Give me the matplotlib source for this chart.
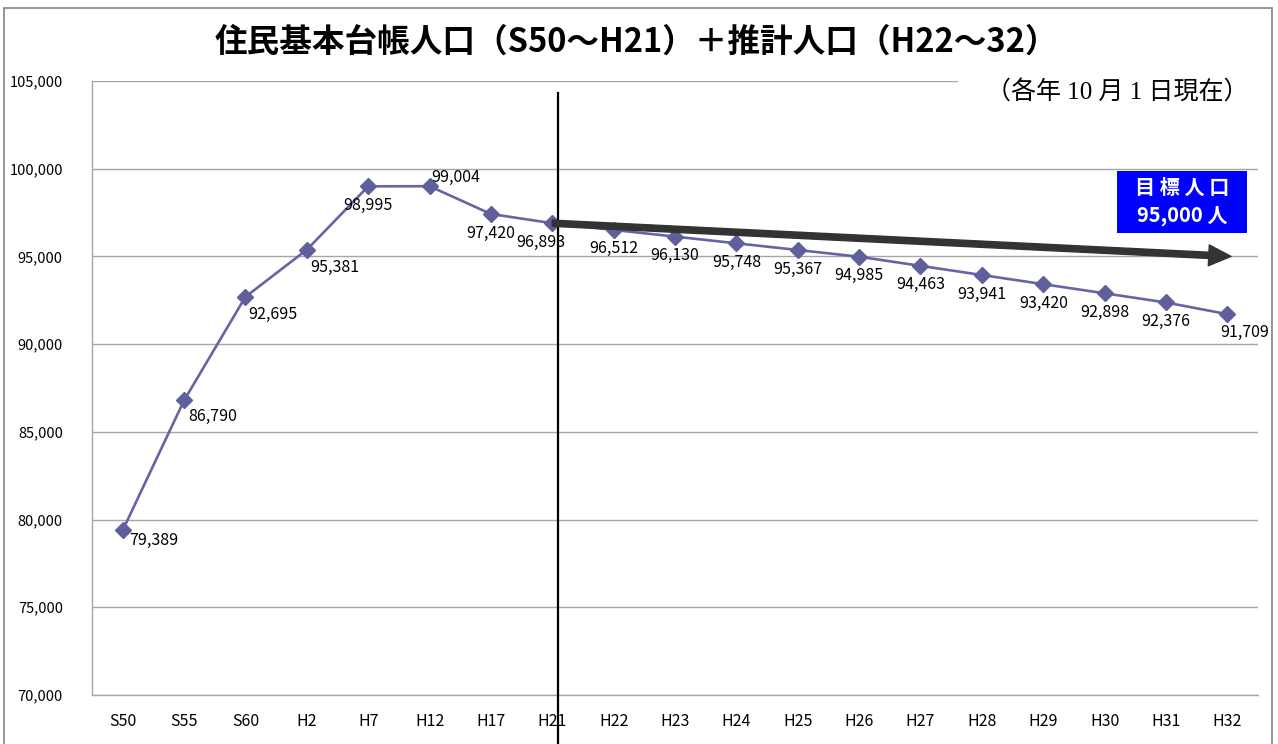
import numpy as np
import matplotlib
matplotlib.use("Agg")
import matplotlib.pyplot as plt
from matplotlib.patches import Rectangle
from matplotlib.ticker import FuncFormatter, MultipleLocator

plt.rcParams['font.family'] = ['Noto Sans CJK JP', 'DejaVu Sans']

# Data
years = ['S50', 'S55', 'S60', 'H2', 'H7', 'H12', 'H17', 'H21',
         'H22', 'H23', 'H24', 'H25', 'H26', 'H27', 'H28', 'H29', 'H30', 'H31', 'H32']
population = [79389, 86790, 92695, 95381, 98995, 99004, 97420, 96893,
              96512, 96130, 95748, 95367, 94985, 94463, 93941, 93420, 92898, 92376, 91709]
last_actual = 'H21'
goal = 95000

title = '住民基本台帳人口（S50～H21）＋推計人口（H22～32）'
subtitle = '（各年 10 月 1 日現在）'
goal_lines = ['目 標 人 口', '95,000 人']

# Layout (pixels of a 1278x744 canvas)
W, H = 1278, 744
LINE_COLOR = '#6565a5'
MARKER_COLOR = '#5f5f9c'
GRID_COLOR = '#a6a6a6'

# per-label offsets in pixels (dx, dy, ha)
label_offsets = {0: (7, -10, 'left'), 1: (4, -16, 'left'), 2: (3, -18, 'left'),
                 3: (3, -18, 'left'), 5: (2, 9, 'left'), 7: (-11, -19, 'center'),
                 18: (17, -18, 'center')}


def fig_x(px):
    return px / W


def fig_y(py):
    return 1 - py / H


fig = plt.figure(figsize=(W / 100, H / 100), dpi=100)
ax = fig.add_axes([fig_x(92), fig_y(695), (1258 - 92) / W, (695 - 81) / H])

x = np.arange(len(years))
ax.plot(x, population, color=LINE_COLOR, lw=1.9, marker='D', ms=8.5,
        mfc=MARKER_COLOR, mec=MARKER_COLOR, zorder=3)

for i, v in enumerate(population):
    dx, dy, ha = label_offsets.get(i, (0, -19, 'center'))
    ax.annotate(f'{v:,}', (x[i], v), xytext=(dx, dy), textcoords='offset pixels',
                ha=ha, va='center', fontsize=11.5, color='black', zorder=5)

ax.set_xlim(-0.5, len(years) - 0.5)
ax.set_ylim(70000, 105000)
ax.set_xticks(x)
ax.set_xticklabels(years)
ax.yaxis.set_major_locator(MultipleLocator(5000))
ax.yaxis.set_major_formatter(FuncFormatter(lambda v, p: f'{int(v):,}'))
ax.tick_params(axis='y', length=0, pad=21, labelsize=10.5)
ax.tick_params(axis='x', length=0, pad=13, labelsize=11.5)
ax.grid(axis='y', color=GRID_COLOR, lw=1.0, zorder=0)
ax.set_axisbelow(True)
for side in ['top', 'right']:
    ax.spines[side].set_visible(False)
for side in ['left', 'bottom']:
    ax.spines[side].set_color(GRID_COLOR)
    ax.spines[side].set_linewidth(1.0)

# divider between actual and projected values
i_last = years.index(last_actual)
trans = matplotlib.transforms.blended_transform_factory(ax.transData, ax.transAxes)
ax.plot([i_last + 0.09, i_last + 0.09], [0.98, -0.1], transform=trans,
        color='black', lw=1.6, clip_on=False, zorder=4)

# goal trend arrow
ax.annotate('', xy=(len(years) - 1 + 0.06, goal), xytext=(i_last, population[i_last]),
            arrowprops=dict(arrowstyle='simple,head_length=1.6,head_width=1.5,tail_width=0.45',
                            color='#333333', shrinkA=0, shrinkB=0), zorder=6)

# white patch hiding the top gridline under the subtitle
fig.patches.append(Rectangle((fig_x(958), fig_y(110)), (1265 - 958) / W, 35 / H,
                             transform=fig.transFigure, facecolor='white',
                             edgecolor='none', zorder=2))
fig.text(fig_x(1117), fig_y(93), subtitle, ha='center', va='center', fontsize=18,
         family=['Liberation Serif', 'Noto Sans CJK JP'], zorder=3)

fig.text(fig_x(636), fig_y(42), title, ha='center', va='center', fontsize=23.5,
         fontweight='bold')

# goal box
fig.patches.append(Rectangle((fig_x(1117), fig_y(233)), 130 / W, 62 / H,
                             transform=fig.transFigure, facecolor='#0000ff',
                             edgecolor='none', zorder=7))
fig.text(fig_x(1182), fig_y(187), goal_lines[0], ha='center', va='center',
         fontsize=14.5, fontweight='bold', color='white', zorder=8)
fig.text(fig_x(1182), fig_y(215), goal_lines[1], ha='center', va='center',
         fontsize=14.5, fontweight='bold', color='white', zorder=8)

# outer frame
fig.patches.append(Rectangle((fig_x(4), fig_y(760)), (1272 - 4) / W, (760 - 8) / H,
                             transform=fig.transFigure, facecolor='none',
                             edgecolor='#8c8c8c', lw=1.3, zorder=9))

fig.savefig('out.png', dpi=100)
